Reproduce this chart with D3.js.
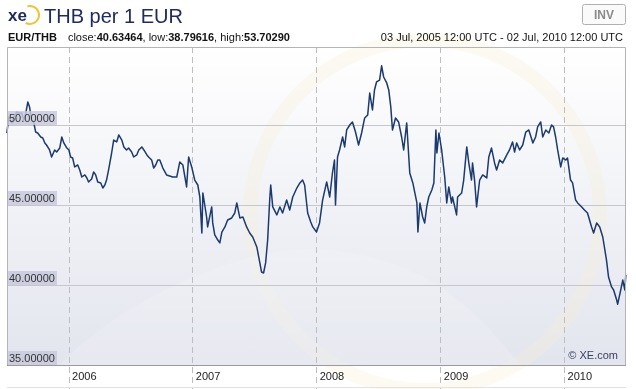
<!DOCTYPE html>
<html>
<head>
<meta charset="utf-8">
<script src="https://cdn.jsdelivr.net/npm/d3@7"></script>
<style>
  body { margin: 0; background: #fff; }
  svg { display: block; font-family: "Liberation Sans", Arial, sans-serif; }
</style>
</head>
<body>
<div id="chart"></div>
<script>
const width = 636, height = 389;
const margin = {top: 47, right: 10, bottom: 24, left: 7};

const title = "THB per 1 EUR";
const pair = "EUR/THB";
const stats = [["close:", "40.63464"], ["low:", "38.79616"], ["high:", "53.70290"]];
const range = "03 Jul, 2005 12:00 UTC - 02 Jul, 2010 12:00 UTC";
const yTicks = [35, 40, 45, 50];
const xStart = "2005-07-03 12:00", xEnd = "2010-07-02 12:00";

// EUR/THB rate
const series = [
  // 2005
  ["2005-07-03", 49.50], ["2005-07-09", 50.50], ["2005-07-18", 50.13], ["2005-07-24", 50.50],
  ["2005-08-01", 50.81], ["2005-08-07", 50.75], ["2005-08-16", 50.75], ["2005-08-22", 50.31],
  ["2005-08-28", 50.75], ["2005-09-03", 51.44], ["2005-09-08", 51.13], ["2005-09-14", 50.31],
  ["2005-09-20", 50.19], ["2005-09-26", 49.56], ["2005-10-02", 49.50], ["2005-10-11", 49.25],
  ["2005-10-17", 49.19], ["2005-10-23", 48.88], ["2005-10-28", 48.75], ["2005-11-06", 48.44],
  ["2005-11-12", 48.00], ["2005-11-21", 48.44], ["2005-11-27", 48.31], ["2005-12-06", 48.56],
  ["2005-12-12", 49.25], ["2005-12-18", 48.88], ["2005-12-27", 48.56],
  // 2006
  ["2006-01-02", 48.44], ["2006-01-07", 48.00], ["2006-01-13", 47.94], ["2006-01-19", 47.38],
  ["2006-01-28", 47.50], ["2006-02-03", 47.19], ["2006-02-09", 46.75], ["2006-02-18", 46.88],
  ["2006-02-24", 46.69], ["2006-03-01", 46.44], ["2006-03-10", 46.63], ["2006-03-16", 47.06],
  ["2006-03-22", 46.88], ["2006-03-28", 46.44], ["2006-04-06", 46.38], ["2006-04-12", 46.06],
  ["2006-04-18", 46.25], ["2006-04-23", 46.56], ["2006-04-29", 47.19], ["2006-05-08", 48.25],
  ["2006-05-14", 49.06], ["2006-05-23", 48.94], ["2006-05-29", 49.38], ["2006-06-07", 49.06],
  ["2006-06-13", 48.63], ["2006-06-21", 48.44], ["2006-06-27", 48.56], ["2006-07-06", 48.31],
  ["2006-07-12", 48.00], ["2006-07-21", 48.13], ["2006-07-27", 48.44], ["2006-08-05", 48.63],
  ["2006-08-11", 48.44], ["2006-08-20", 48.13], ["2006-08-25", 48.00], ["2006-09-03", 47.81],
  ["2006-09-09", 47.31], ["2006-09-15", 47.50], ["2006-09-21", 47.81], ["2006-09-27", 47.81],
  ["2006-10-06", 47.31], ["2006-10-17", 46.88], ["2006-11-04", 46.75], ["2006-11-16", 46.75],
  ["2006-11-25", 47.69], ["2006-12-04", 47.50], ["2006-12-15", 46.13], ["2006-12-21", 48.00],
  ["2006-12-30", 47.38],
  // 2007
  ["2007-01-08", 46.56], ["2007-01-17", 46.25], ["2007-01-23", 45.50], ["2007-01-29", 43.25],
  ["2007-02-01", 45.75], ["2007-02-12", 44.25], ["2007-02-15", 43.63], ["2007-02-27", 44.88],
  ["2007-03-02", 43.88], ["2007-03-08", 43.13], ["2007-03-17", 42.81], ["2007-03-23", 42.63],
  ["2007-03-29", 43.31], ["2007-04-07", 43.63], ["2007-04-15", 44.06], ["2007-04-27", 44.19],
  ["2007-05-06", 44.50], ["2007-05-12", 45.13], ["2007-05-21", 44.19], ["2007-05-30", 44.25],
  ["2007-06-10", 43.63], ["2007-06-19", 43.25], ["2007-06-28", 43.00], ["2007-07-10", 42.38],
  ["2007-07-19", 41.38], ["2007-07-24", 40.81], ["2007-07-30", 40.75], ["2007-08-05", 41.38],
  ["2007-08-11", 42.81], ["2007-08-17", 45.31], ["2007-08-20", 46.25], ["2007-08-26", 44.88],
  ["2007-09-07", 44.38], ["2007-09-16", 44.88], ["2007-09-24", 44.50], ["2007-10-06", 45.31],
  ["2007-10-15", 44.69], ["2007-10-24", 45.50], ["2007-11-05", 46.06], ["2007-11-14", 46.38],
  ["2007-11-22", 46.56], ["2007-11-28", 46.25], ["2007-12-07", 44.50], ["2007-12-16", 43.94],
  ["2007-12-22", 43.63],
  // 2008
  ["2008-01-02", 43.31], ["2008-01-11", 43.88], ["2008-01-20", 45.31], ["2008-02-01", 46.44],
  ["2008-02-10", 45.50], ["2008-02-18", 47.00], ["2008-02-24", 47.81], ["2008-02-27", 45.00],
  ["2008-03-04", 48.00], ["2008-03-10", 48.44], ["2008-03-19", 49.25], ["2008-03-25", 48.63],
  ["2008-03-31", 49.69], ["2008-04-09", 50.00], ["2008-04-17", 50.19], ["2008-04-26", 49.56],
  ["2008-05-05", 48.75], ["2008-05-14", 49.50], ["2008-05-23", 50.44], ["2008-06-01", 50.63],
  ["2008-06-07", 52.00], ["2008-06-15", 50.94], ["2008-06-21", 52.19], ["2008-06-27", 52.69],
  ["2008-07-06", 52.81], ["2008-07-12", 53.70], ["2008-07-18", 53.00], ["2008-07-27", 52.63],
  ["2008-08-02", 52.19], ["2008-08-08", 51.13], ["2008-08-13", 49.69], ["2008-08-22", 50.44],
  ["2008-08-31", 50.19], ["2008-09-09", 49.25], ["2008-09-15", 48.44], ["2008-09-24", 50.13],
  ["2008-09-27", 49.06], ["2008-10-03", 47.00], ["2008-10-12", 46.38], ["2008-10-24", 45.13],
  ["2008-10-27", 43.31], ["2008-11-02", 45.13], ["2008-11-10", 44.25], ["2008-11-16", 43.88],
  ["2008-11-22", 44.88], ["2008-11-28", 45.50], ["2008-12-07", 45.94], ["2008-12-13", 46.38],
  ["2008-12-19", 49.69], ["2008-12-22", 48.25], ["2008-12-28", 49.50],
  // 2009
  ["2009-01-05", 48.44], ["2009-01-14", 46.75], ["2009-01-20", 45.13], ["2009-01-26", 46.13],
  ["2009-02-03", 45.13], ["2009-02-06", 45.50], ["2009-02-18", 44.38], ["2009-02-21", 45.50],
  ["2009-03-05", 45.75], ["2009-03-11", 46.56], ["2009-03-20", 48.63], ["2009-03-26", 47.63],
  ["2009-04-03", 46.56], ["2009-04-06", 47.63], ["2009-04-12", 46.56], ["2009-04-18", 44.88],
  ["2009-04-27", 46.56], ["2009-05-06", 46.88], ["2009-05-18", 46.69], ["2009-05-24", 48.00],
  ["2009-06-01", 48.56], ["2009-06-10", 47.63], ["2009-06-16", 47.19], ["2009-06-25", 47.81],
  ["2009-07-04", 47.63], ["2009-07-16", 48.13], ["2009-07-24", 48.44], ["2009-08-02", 48.94],
  ["2009-08-08", 48.31], ["2009-08-14", 48.88], ["2009-08-23", 48.44], ["2009-09-01", 48.75],
  ["2009-09-10", 49.56], ["2009-09-19", 49.69], ["2009-10-01", 48.88], ["2009-10-09", 49.25],
  ["2009-10-15", 49.88], ["2009-10-24", 50.19], ["2009-10-30", 49.25], ["2009-11-08", 49.69],
  ["2009-11-17", 49.50], ["2009-11-25", 50.00], ["2009-12-01", 49.88], ["2009-12-07", 49.25],
  ["2009-12-13", 48.44], ["2009-12-22", 47.38], ["2009-12-28", 47.94],
  // 2010
  ["2010-01-06", 47.81], ["2010-01-11", 47.94], ["2010-01-20", 46.56], ["2010-01-26", 46.38],
  ["2010-02-04", 45.31], ["2010-02-10", 45.13], ["2010-02-22", 44.88], ["2010-03-02", 44.69],
  ["2010-03-11", 44.50], ["2010-03-23", 43.63], ["2010-03-29", 43.25], ["2010-04-07", 43.88],
  ["2010-04-16", 43.63], ["2010-04-25", 43.00], ["2010-05-06", 41.56], ["2010-05-12", 40.50],
  ["2010-05-21", 39.88], ["2010-05-27", 39.69], ["2010-06-05", 39.06], ["2010-06-08", 38.80],
  ["2010-06-17", 39.69], ["2010-06-23", 40.31], ["2010-06-29", 39.69], ["2010-07-02", 40.63]
];

const parseDay = d3.timeParse("%Y-%m-%d");
const parseTime = d3.timeParse("%Y-%m-%d %H:%M");
const data = series.map(d => ({date: parseDay(d[0]), rate: d[1]}));

const svg = d3.select("#chart").append("svg")
    .attr("width", width)
    .attr("height", height);

const defs = svg.append("defs");
const grad = defs.append("linearGradient")
    .attr("id", "bg").attr("x1", 0).attr("y1", 0).attr("x2", 0).attr("y2", 1);
grad.append("stop").attr("offset", "0%").attr("stop-color", "#ffffff");
grad.append("stop").attr("offset", "100%").attr("stop-color", "#e3e5ee");

const pw = width - margin.left - margin.right, ph = height - margin.top - margin.bottom;

const x = d3.scaleTime()
    .domain([parseTime(xStart), parseTime(xEnd)])
    .range([margin.left, margin.left + pw]);
const y = d3.scaleLinear()
    .domain([35, 35 + ph / 16])
    .range([margin.top + ph, margin.top]);

// plot background
svg.append("rect")
    .attr("x", margin.left).attr("y", margin.top)
    .attr("width", pw).attr("height", ph)
    .attr("fill", "url(#bg)");

// faint xe watermark
const wm = svg.append("g").attr("opacity", 0.3);
wm.append("circle")
    .attr("cx", 425).attr("cy", 215).attr("r", 175)
    .attr("fill", "none").attr("stroke", "#f8efd4").attr("stroke-width", 14);
wm.append("path")
    .attr("d", "M60,365 C120,300 250,240 330,250 C420,260 470,300 520,365 Z")
    .attr("fill", "#ffffff").attr("opacity", 0.5);

// horizontal gridlines
svg.append("g")
    .selectAll("line")
    .data(yTicks.slice(1))
    .join("line")
    .attr("x1", margin.left).attr("x2", margin.left + pw)
    .attr("y1", d => Math.round(y(d)) + 0.5).attr("y2", d => Math.round(y(d)) + 0.5)
    .attr("stroke", "#c6c6cc");

// dashed year lines
const years = x.ticks(d3.timeYear.every(1));
svg.append("g")
    .selectAll("line")
    .data(years)
    .join("line")
    .attr("x1", d => Math.round(x(d)) + 0.5).attr("x2", d => Math.round(x(d)) + 0.5)
    .attr("y1", margin.top).attr("y2", height)
    .attr("stroke", "#bdbdc2")
    .attr("stroke-dasharray", "6,4");

// the rate line
const line = d3.line()
    .x(d => x(d.date))
    .y(d => y(d.rate));
svg.append("path")
    .datum(data)
    .attr("fill", "none")
    .attr("stroke", "#1b3a6f")
    .attr("stroke-width", 1.5)
    .attr("stroke-linejoin", "round")
    .attr("d", line);

// y labels
const yl = svg.append("g")
    .selectAll("g")
    .data(yTicks)
    .join("g")
    .attr("transform", d => `translate(${margin.left}, ${Math.round(y(d))})`);
yl.append("rect")
    .attr("x", 0).attr("y", -14).attr("width", 50).attr("height", 14)
    .attr("fill", "#c8cadd").attr("opacity", 0.85);
yl.append("text")
    .attr("x", 2).attr("y", -3)
    .attr("font-size", 11).attr("fill", "#333")
    .text(d => d3.format(".5f")(d));

// plot border
svg.append("path")
    .attr("d", `M${margin.left + 0.5},${margin.top + ph}V${margin.top + 0.5}H${margin.left + pw - 0.5}V${margin.top + ph}`)
    .attr("fill", "none").attr("stroke", "#b4b4b8");
svg.append("line")
    .attr("x1", margin.left).attr("x2", margin.left + pw)
    .attr("y1", margin.top + ph + 0.5).attr("y2", margin.top + ph + 0.5)
    .attr("stroke", "#9a9aa0");
svg.append("line")
    .attr("x1", margin.left).attr("x2", margin.left + pw)
    .attr("y1", height - 1.5).attr("y2", height - 1.5)
    .attr("stroke", "#e2e2e4");

// x axis year labels
svg.append("g")
    .attr("transform", `translate(0, ${margin.top + ph})`)
    .call(d3.axisBottom(x).ticks(d3.timeYear.every(1)).tickFormat(d3.timeFormat("%Y")).tickSize(0))
    .call(g => g.select(".domain").remove())
    .call(g => g.selectAll("text")
        .attr("text-anchor", "start").attr("dx", 3).attr("y", 7)
        .attr("font-size", 11).attr("fill", "#222")
        .attr("font-family", "'Liberation Sans', Arial, sans-serif"));

svg.append("text")
    .attr("x", 618).attr("y", 359)
    .attr("text-anchor", "end")
    .attr("font-size", 11).attr("fill", "#3a4060")
    .text("© XE.com");

// header: logo + title
const logo = svg.append("g");
logo.append("path")
    .attr("d", d3.arc()({innerRadius: 8, outerRadius: 10, startAngle: -0.3, endAngle: Math.PI + 0.5}))
    .attr("transform", "translate(30,15)")
    .attr("fill", "#f2c230");
logo.append("text")
    .attr("x", 8).attr("y", 21)
    .attr("font-size", 17).attr("font-weight", "bold").attr("fill", "#1d2a5c")
    .text("xe");
svg.append("text")
    .attr("x", 44).attr("y", 23)
    .attr("font-size", 20).attr("fill", "#1f2b62")
    .text(title);

// INV button
svg.append("rect")
    .attr("x", 582.5).attr("y", 4.5).attr("width", 43).attr("height", 20).attr("rx", 2)
    .attr("fill", "#fafafa").attr("stroke", "#b0b0b0");
svg.append("text")
    .attr("x", 604).attr("y", 19)
    .attr("text-anchor", "middle")
    .attr("font-size", 12).attr("font-weight", "bold").attr("fill", "#8a8a8a")
    .text("INV");

// info line
const info = svg.append("text")
    .attr("x", 8).attr("y", 41)
    .attr("font-size", 11).attr("fill", "#111");
info.append("tspan").attr("font-weight", "bold").text(pair);
stats.forEach((s, i) => {
  info.append("tspan").attr("dx", i === 0 ? 11 : 0).text((i === 0 ? "" : ", ") + s[0]);
  info.append("tspan").attr("font-weight", "bold").text(s[1]);
});
svg.append("text")
    .attr("x", 623).attr("y", 41)
    .attr("text-anchor", "end")
    .attr("font-size", 11).attr("fill", "#111")
    .text(range);
</script>
</body>
</html>
